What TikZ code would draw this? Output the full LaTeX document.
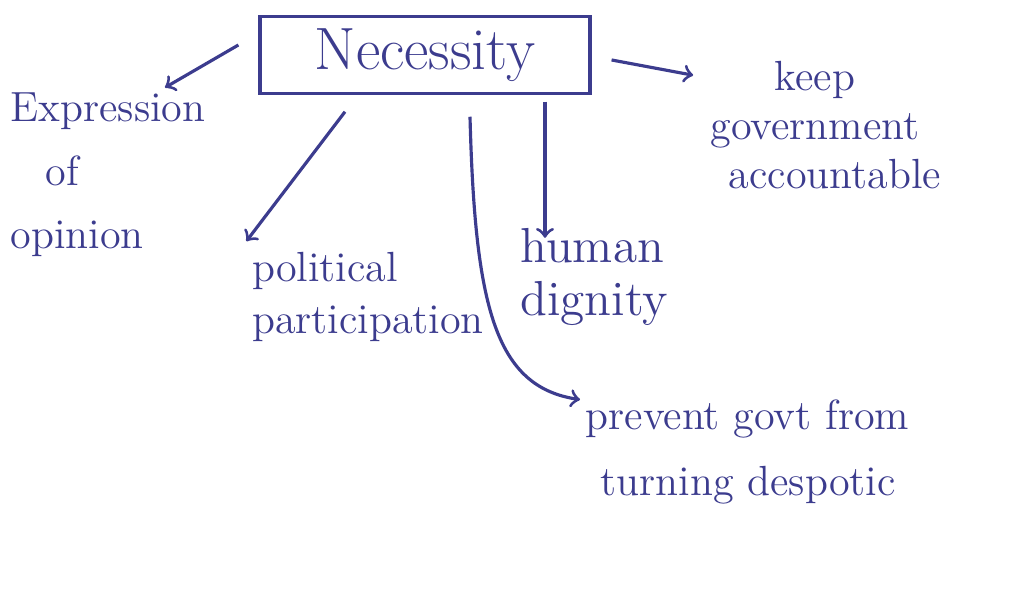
\documentclass[tikz,border=0pt]{standalone}
\usepackage{xcolor}
\usepackage{tikz}
\usetikzlibrary{arrows, positioning}
\definecolor{inkBlue}{HTML}{3C3C8E}

\begin{document}
\begin{tikzpicture}[
    main/.style={rectangle, draw=inkBlue, line width=0.9pt, minimum width=3.3cm, minimum height=0.66cm, text=inkBlue, font=\fontsize{17}{20}\selectfont},
    idea/.style={text=inkBlue, inner sep=0pt, align=left},
    arrow/.style={->, >=to, line width=0.9pt, draw=inkBlue},
]
    \useasboundingbox (0,0) rectangle (10.3,6.07);
    \node[main] (nec) at (4.25,5.52) {Necessity};
    \node[idea, anchor=west, font=\fontsize{12}{18}\selectfont] (expr) at (0.1,4.32) {Expression\\[0pt]\hspace*{0.35cm}of\\opinion};
    \node[idea, font=\fontsize{12}{15}\selectfont] (pol) at (3.68,3.1) {political\\participation};
    \node[idea, anchor=west, font=\fontsize{14}{15}\selectfont] (hum) at (5.2,3.3) {human\\dignity};
    \node[idea, align=center, font=\fontsize{12}{14}\selectfont] (keep) at (8.15,4.82) {keep\\government\\\hspace*{0.4cm}accountable};
    \node[idea, anchor=west, font=\fontsize{12}{18.5}\selectfont] (prev) at (5.85,1.55) {prevent govt from\\\hspace*{0.15cm}turning despotic};

    \draw[arrow] ([shift={(-0.2,0.1)}]nec.west) -- ([shift={(1.55,0.05)}]expr.north west);
    \draw[arrow] ([shift={(-0.8,-0.17)}]nec.south) -- ([shift={(-0.05,0.1)}]pol.north west);
    \draw[arrow] ([shift={(1.2,-0.07)}]nec.south) -- ([shift={(0.25,-0.1)}]hum.north west);
    \draw[arrow] ([shift={(0.2,-0.05)}]nec.east) -- ([shift={(0.05,-0.15)}]keep.north west);
    \draw[arrow] ([shift={(0.45,-0.22)}]nec.south) .. controls (4.75,3.0) and (4.95,2.2) .. ([shift={(-0.05,0)}]prev.north west);
\end{tikzpicture}
\end{document}
